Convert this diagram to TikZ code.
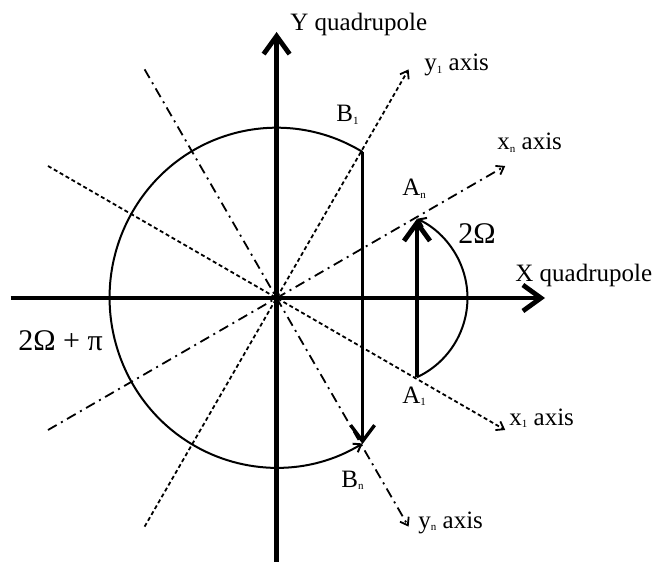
\documentclass[tikz,border=0pt]{standalone}
\usepackage{fontspec}
\setmainfont{Liberation Serif}
\usetikzlibrary{arrows.meta}
\newcommand{\subidx}[1]{\raisebox{-1.3pt}{\fontsize{5.5}{6}\selectfont #1}}

\begin{document}
\begin{tikzpicture}[x=0.5pt, y=0.5pt,
    achse/.style={line width=2.4pt, -{Straight Barb[length=9pt,width=13pt]}},
    pfeil/.style={line width=1.7pt, -{Straight Barb[length=8pt,width=12pt]}},
    punktiert/.style={line width=0.9pt, dash pattern=on 2pt off 1.4pt, -{Straight Barb[length=3.5pt,width=5pt]}},
    strichpunkt/.style={line width=0.9pt, dash pattern=on 5pt off 2.5pt on 1pt off 2.5pt, -{Straight Barb[length=3.5pt,width=5pt]}},
    bogen/.style={line width=1pt, -{Straight Barb[length=3.5pt,width=5pt]}},
    beschr/.style={font=\fontsize{12.5}{14}\selectfont, anchor=base west, inner sep=0pt},
    winkel/.style={font=\fontsize{15}{17}\selectfont, anchor=base west, inner sep=0pt}]

    % Rahmen
    \useasboundingbox (-276.6,-263) rectangle (379.4,298);

    % Punkte
    \coordinate (O) at (0,0);
    \coordinate (A1) at (140.4,-79.2);
    \coordinate (An) at (140.4,79.2);
    \coordinate (B1) at (86,146);
    \coordinate (Bn) at (86,-146);

    % gedrehte Achsen
    \coordinate (x1e) at (-30:264);
    \coordinate (x1s) at (150:264);
    \coordinate (y1e) at (60:264);
    \coordinate (y1s) at (240:264);
    \coordinate (xne) at (30:264);
    \coordinate (xns) at (210:264);
    \coordinate (yne) at (-60:264);
    \coordinate (yns) at (120:264);
    \draw[punktiert] (x1s) -- (x1e);
    \draw[punktiert] (y1s) -- (y1e);
    \draw[strichpunkt] (xns) -- (xne);
    \draw[strichpunkt] (yns) -- (yne);

    % Quadrupol-Achsen
    \coordinate (xl) at (-266,0);
    \coordinate (xr) at (268.4,0);
    \coordinate (yu) at (0,-264);
    \coordinate (yo) at (0,266);
    \draw[achse] (xl) -- (xr);
    \draw[achse] (yu) -- (yo);

    % Boegen
    \draw[bogen] (B1) arc[start angle=59, end angle=301, x radius=167, y radius=170];
    \draw[bogen] (A1) arc[start angle=-65, end angle=65, radius=87.4];

    % Pfeile
    \draw[pfeil] (B1) -- (Bn);
    \draw[achse] (A1) -- (An);

    % Beschriftung
    \node[beschr] (yq) at (13.4,267) {Y quadrupole};
    \node[beschr] (xq) at (238.4,16) {X quadrupole};
    \node[beschr] (y1lab) at (147.4,227) {y\subidx{1} axis};
    \node[beschr] (xnlab) at (220.4,148) {x\subidx{n} axis};
    \node[beschr] (x1lab) at (232.4,-127) {x\subidx{1} axis};
    \node[beschr] (ynlab) at (141.4,-230) {y\subidx{n} axis};
    \node[beschr] (B1lab) at (59.4,176) {B\subidx{1}};
    \node[beschr] (Bnlab) at (64.4,-189) {B\subidx{n}};
    \node[beschr] (Anlab) at (125.4,102) {A\subidx{n}};
    \node[beschr] (A1lab) at (125.4,-105) {A\subidx{1}};
    \node[winkel] (wa) at (181.4,54) {2Ω};
    \node[winkel] (wb) at (-258.6,-52) {2Ω + π};
\end{tikzpicture}
\end{document}
